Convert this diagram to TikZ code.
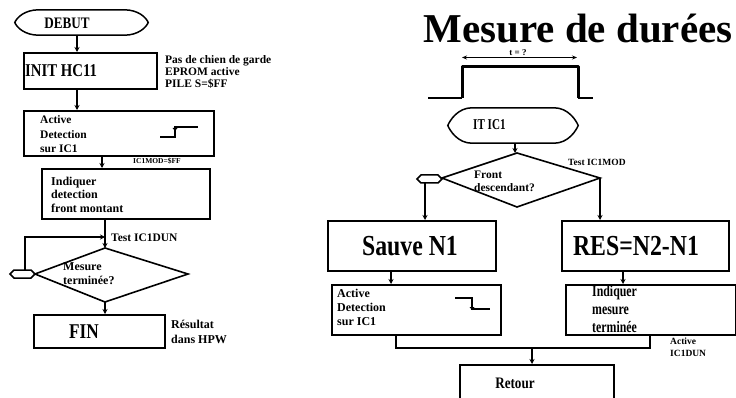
\documentclass[tikz,border=0pt]{standalone}
\usepackage{fontspec}
\setmainfont{Liberation Serif}
\newfontfamily\cnd[FakeStretch=0.82]{Liberation Serif}
\newfontfamily\cnn[FakeStretch=0.74]{Liberation Serif}
\usetikzlibrary{arrows.meta}
\tikzset{
  box/.style={draw, line width=1.8pt, rectangle, inner sep=0pt, anchor=north west},
  txt/.style={inner sep=0pt, anchor=base west, align=left, font=\bfseries\fontsize{11.5}{14}\selectfont},
  small/.style={inner sep=0pt, anchor=base west, align=left, font=\bfseries\fontsize{9.5}{12}\selectfont},
  big/.style={inner sep=0pt, anchor=base, font=\cnd\bfseries\fontsize{29}{29}\selectfont},
  mid/.style={inner sep=0pt, anchor=base, font=\cnd\bfseries\fontsize{16}{16}\selectfont},
  arr/.style={line width=1.5pt, -{Stealth[length=5pt,width=5pt]}},
  ln/.style={line width=1.5pt},
  dia/.style={line width=1.6pt},
}
\newcommand\termshape[1]{%
  \draw[line width=1.5pt] ([xshift=24pt]#1.north west) -- ([xshift=-24pt]#1.north east)
    .. controls ([xshift=-10pt]#1.north east) and ([xshift=-2pt,yshift=5pt]#1.east) .. (#1.east)
    .. controls ([xshift=-2pt,yshift=-5pt]#1.east) and ([xshift=-10pt]#1.south east) .. ([xshift=-24pt]#1.south east)
    -- ([xshift=24pt]#1.south west)
    .. controls ([xshift=10pt]#1.south west) and ([xshift=2pt,yshift=-5pt]#1.west) .. (#1.west)
    .. controls ([xshift=2pt,yshift=5pt]#1.west) and ([xshift=10pt]#1.north west) .. ([xshift=24pt]#1.north west) -- cycle;}
\begin{document}
\begin{tikzpicture}[x=1pt,y=-1pt]
\useasboundingbox (0,0) rectangle (736,398);
% ---------------- left flow ----------------
\node[inner sep=0pt, minimum width=133pt, minimum height=25pt] (debut) at (81.5,22.5) {};
\termshape{debut}
\node[mid] (debutt) at (67,28.5) {DEBUT};

\node[box, minimum width=133pt, minimum height=36pt] (init) at (23,52) {};
\node[inner sep=0pt, anchor=base west, font=\cnd\bfseries\fontsize{18}{18}\selectfont] (initt) at (25,77) {INIT HC11};
\node[txt, font=\bfseries\fontsize{11.5}{12}\selectfont] (initc) at (165,88) {Pas de chien de garde\\EPROM active\\PILE S=\$FF};

\node[box, minimum width=190pt, minimum height=45pt] (act1) at (23,110) {};
\node[txt, font=\bfseries\fontsize{11.5}{14.5}\selectfont] (act1t) at (40,153) {Active\\Detection\\sur IC1};
\coordinate (r1) at (160,137);
\draw[line width=1.4pt] (r1) -- (175,137) -- (175,127) -- (198,127);
\fill (172.5,128) -- (177.5,128) -- (175,131) -- cycle;

\node[box, minimum width=168pt, minimum height=50pt] (ind1) at (41,168) {};
\node[txt, font=\bfseries\fontsize{12}{14}\selectfont] (ind1t) at (51,213) {Indiquer\\detection\\front montant};
\draw[arr] (act1.south -| 102,0) -- (ind1.north -| 102,0);
\node[inner sep=0pt, anchor=base west, font=\bfseries\fontsize{7.5}{8}\selectfont] (mod) at (133,164) {IC1MOD=\$FF};

% diamond 1
\coordinate (d1t) at (105,248);
\coordinate (d1r) at (188,274);
\coordinate (d1b) at (105,302);
\coordinate (d1l) at (35,274);
\draw[dia] (d1t) -- (d1r) -- (d1b) -- (d1l) -- cycle;
\draw[line width=1.5pt] (10,274) -- (14,270) -- (31,270) -- (35,274) -- (31,278) -- (14,278) -- cycle;
\coordinate (hexL) at (25,270);
\node[txt, font=\bfseries\fontsize{12}{14}\selectfont] (d1txt) at (63,284) {Mesure\\terminée?};
\draw[arr] (ind1.south -| d1t) -- (d1t);
\coordinate (loopend) at (105,237);
\draw[arr] (hexL) |- (loopend);
\node[txt] (tdun) at (111,241) {Test IC1DUN};

\node[box, minimum width=131pt, minimum height=33pt] (fin) at (33,314) {};
\node[inner sep=0pt, anchor=base, font=\cnd\bfseries\fontsize{21}{21}\selectfont] (fint) at (84,338) {FIN};
\draw[arr] (d1b) -- (fin.north -| d1b);
\node[txt, font=\bfseries\fontsize{12}{15}\selectfont] (res1) at (171,343) {Résultat\\dans HPW};

\draw[arr] (debut.south -| 77,0) -- (init.north -| 77,0);
\draw[arr] (init.south -| 77,0) -- (act1.north -| 77,0);

% ---------------- right flow ----------------
\node[inner sep=0pt, anchor=base, text depth=0pt, font=\bfseries\fontsize{41}{41}\selectfont] (title) at (578,43) {Mesure de durées};
\coordinate (p0) at (428,98);
\coordinate (p1) at (462,98);
\coordinate (p2) at (578,98);
\coordinate (p3) at (593,98);
\draw[line width=1.4pt] (p0) -- (p1);
\draw[line width=1.4pt] (p2) -- (p3);
\draw[line width=3pt, line join=round] (p1) -- (462,67) -- (578,67) -- (p2);
\draw[line width=1.2pt, {Stealth[length=5pt,width=4pt]}-{Stealth[length=5pt,width=4pt]}] (462,57.5) -- (577,57.5);
\node[inner sep=0pt, anchor=base, font=\bfseries\fontsize{9}{9}\selectfont] (tq) at (518,56) {t = ?};

\node[inner sep=0pt, minimum width=130pt, minimum height=35pt] (itic) at (513,125.5) {};
\termshape{itic}
\node[inner sep=0pt, anchor=base west, font=\cnn\bfseries\fontsize{15}{15}\selectfont] (itict) at (473,130) {IT IC1};

\coordinate (d2t) at (517,153);
\coordinate (d2r) at (600,178);
\coordinate (d2b) at (517,207);
\coordinate (d2l) at (442,178);
\draw[dia] (d2t) -- (d2r) -- (d2b) -- (d2l) -- cycle;
\draw[line width=1.5pt] (417,179) -- (421,175) -- (438,175) -- (442,179) -- (438,183) -- (421,183) -- cycle;
\coordinate (hexR) at (425,183);
\draw[arr] (itic.south -| 515,0) -- (d2t -| 515,0);
\node[inner sep=0pt, anchor=base west, font=\bfseries\fontsize{9.5}{10}\selectfont] (tmod) at (568,166) {Test IC1MOD};
\node[txt, font=\bfseries\fontsize{11.5}{13}\selectfont] (d2txt) at (474,192) {Front\\descendant?};

\node[box, minimum width=168pt, minimum height=50pt] (sauve) at (327,220) {};
\node[big] (sauvet) at (410,255) {Sauve N1};
\node[box, minimum width=167pt, minimum height=50pt] (res) at (561,220) {};
\node[big] (rest) at (636,255) {RES=N2-N1};
\draw[arr] (hexR) -- (sauve.north -| hexR);
\draw[arr] (d2r) -- (res.north -| d2r);

\node[box, minimum width=169pt, minimum height=50pt] (act2) at (331,284) {};
\node[txt, font=\bfseries\fontsize{12}{14}\selectfont] (act2t) at (337,325) {Active\\Detection\\sur IC1};
\draw[line width=1.4pt] (455,298) -- (472,298) -- (472,309) -- (490,309);
\fill (469.5,307) -- (474.5,307) -- (472,310) -- cycle;
\draw[arr] (sauve.south -| 391,0) -- (act2.north -| 391,0);

\node[box, minimum width=170pt, minimum height=50pt] (ind2) at (565,284) {};
\node[txt, font=\cnn\bfseries\fontsize{16}{18}\selectfont] (ind2t) at (592,332) {Indiquer\\mesure\\terminée};
\draw[arr] (res.south -| 623,0) -- (ind2.north -| 623,0);
\node[small] (adun) at (670,356) {Active\\IC1DUN};

\node[box, minimum width=154pt, minimum height=50pt] (ret) at (459,364) {};
\node[mid] (rett) at (515,388) {Retour};
\coordinate (jn) at (532,348);
\draw[ln] (act2.south -| 396,0) |- (jn) -| (ind2.south -| 650,0);
\draw[arr] (jn) -- (ret.north -| jn);
\end{tikzpicture}
\end{document}
